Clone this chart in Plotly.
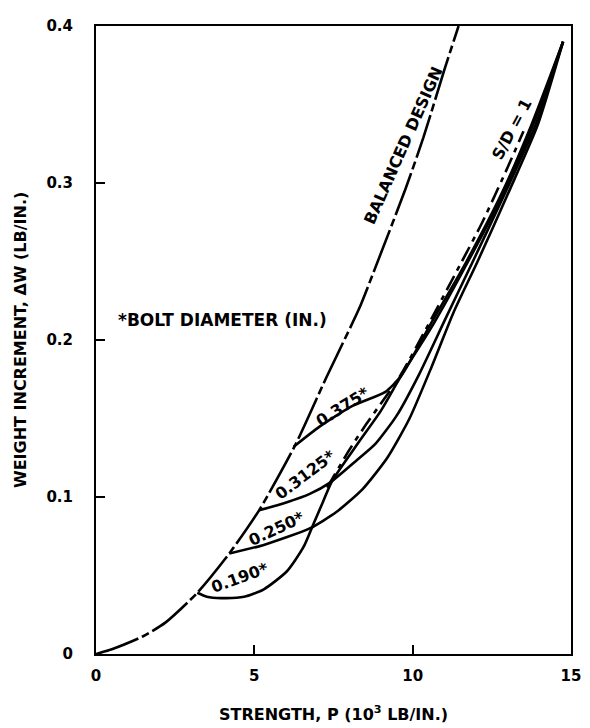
import plotly.graph_objects as go

# Balanced design curve
bal_p = [0, 0.5, 1.46, 2.19, 3.2, 4.21, 5.15, 6.29, 7.27, 8.31, 8.8, 9.77, 10.34, 11.0, 11.45]
bal_w = [0, 0.003, 0.011, 0.020, 0.039, 0.064, 0.0915, 0.133, 0.176, 0.220, 0.245, 0.296, 0.329, 0.372, 0.400]

# Bolt diameter curves (branch off the balanced design line)
d190_p = [3.2, 3.5, 3.95, 4.68, 5.3, 6.03, 6.55, 6.85, 7.17, 7.45, 8.3, 9.0, 9.63, 10.65, 11.75, 12.9, 13.8, 14.75]
d190_w = [0.039, 0.0365, 0.0356, 0.0364, 0.0412, 0.0527, 0.068, 0.082, 0.097, 0.110, 0.135, 0.155, 0.177, 0.210, 0.250, 0.295, 0.337, 0.390]

d250_p = [4.21, 5.30, 6.75, 7.59, 8.42, 9.2, 9.9, 10.6, 11.3, 12.05, 13.05, 13.95, 14.75]
d250_w = [0.064, 0.0695, 0.080, 0.0904, 0.105, 0.125, 0.150, 0.183, 0.218, 0.250, 0.295, 0.337, 0.390]

d3125_p = [5.15, 6.03, 6.75, 7.38, 8.21, 8.83, 9.5, 10.2, 11.0, 11.9, 12.95, 13.88, 14.75]
d3125_w = [0.0915, 0.0967, 0.102, 0.109, 0.123, 0.134, 0.152, 0.178, 0.212, 0.250, 0.295, 0.337, 0.390]

d375_p = [6.24, 7.07, 8.1, 9.14, 9.63, 10.62, 11.7, 12.85, 13.75, 14.75]
d375_w = [0.132, 0.145, 0.158, 0.167, 0.177, 0.212, 0.250, 0.295, 0.337, 0.390]

# S/D = 1 locus
sd1_p = [7.3, 8.0, 8.52, 9.6, 10.5, 11.5, 12.2, 13.0, 13.5]
sd1_w = [0.106, 0.130, 0.146, 0.177, 0.210, 0.248, 0.275, 0.310, 0.333]

# Labels
label_text = ["0.190*", "0.250*", "0.3125*", "0.375*", "BALANCED DESIGN", "S/D = 1", "*BOLT DIAMETER (IN.)"]
label_p = [4.56, 5.72, 6.62, 7.80, 9.70, 13.13, 4.0]
label_w = [0.049, 0.0797, 0.1143, 0.1576, 0.324, 0.334, 0.213]
label_angle = [-20, -25, -37, -32, -66, -62, 0]
label_size = [16, 16, 16, 16, 16, 16, 17]

font = "DejaVu Sans, Arial, sans-serif"

fig = go.Figure()


def add_curve(x, y, dash="solid"):
    fig.add_trace(go.Scatter(
        x=x, y=y, mode="lines",
        line=dict(color="black", width=2.6, dash=dash, shape="spline", smoothing=0.6),
        hoverinfo="skip", showlegend=False,
    ))


add_curve(bal_p, bal_w, dash="45px,4px,8px,4px")
add_curve(d190_p, d190_w)
add_curve(d250_p, d250_w)
add_curve(d3125_p, d3125_w)
add_curve(d375_p, d375_w)
add_curve(sd1_p, sd1_w, dash="16px,6px,5px,6px")

for t, x, y, a, s in zip(label_text, label_p, label_w, label_angle, label_size):
    fig.add_annotation(
        x=x, y=y, text=t, textangle=a, showarrow=False,
        font=dict(family=font, size=s, color="black", weight="bold"),
    )

# axis titles
fig.add_annotation(
    xref="paper", yref="paper", x=0, y=0.5, xshift=-76, xanchor="center", yanchor="middle",
    textangle=-90, text="WEIGHT INCREMENT, \u0394W (LB/IN.)", showarrow=False,
    font=dict(family=font, size=16, color="black", weight="bold"),
)
fig.add_annotation(
    xref="paper", yref="paper", x=0.5, y=0, yshift=-59, xanchor="center", yanchor="middle",
    text="STRENGTH, P (10<sup>3</sup> LB/IN.)", showarrow=False,
    font=dict(family=font, size=16, color="black", weight="bold"),
)

axis_common = dict(
    showgrid=False, zeroline=False,
    showline=True, linecolor="black", linewidth=2, mirror=True,
    ticks="inside", ticklen=9, tickwidth=2, tickcolor="black",
    tickfont=dict(family=font, size=15, color="black", weight="bold"),
)

fig.update_xaxes(range=[0, 15], tickvals=[0, 5, 10, 15], ticktext=["0", "5", "10", "15"],
                 ticklabelstandoff=7, **axis_common)
fig.update_yaxes(range=[0, 0.4], tickvals=[0, 0.1, 0.2, 0.3, 0.4],
                 ticktext=["0", "0.1", "0.2", "0.3", "0.4"], ticklabelstandoff=18, **axis_common)

# the page body adds an 8px margin, so the figure is sized to fit inside it
fig.update_layout(
    width=582, height=720,
    margin=dict(l=88, r=12, t=9, b=74),
    plot_bgcolor="white", paper_bgcolor="white",
)

fig.write_html("out.html")
